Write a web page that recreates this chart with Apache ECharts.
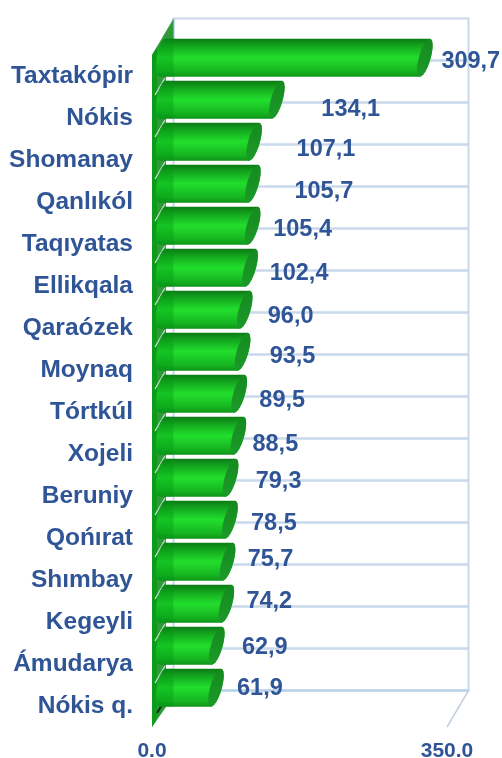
<!DOCTYPE html>
<html>
<head>
<meta charset="utf-8">
<style>html,body{margin:0;padding:0;background:#fff}#chart{width:502px;height:758px}</style>
<script src="https://cdn.jsdelivr.net/npm/echarts@6/dist/echarts.min.js"></script>
</head>
<body>
<div id="chart"></div>
<script>
var categories = ['Taxtakópir','Nókis','Shomanay','Qanlıkól','Taqıyatas','Ellikqala','Qaraózek','Moynaq','Tórtkúl','Xojeli','Beruniy','Qońırat','Shımbay','Kegeyli','Ámudarya','Nókis q.'];
var values = [309.7,134.1,107.1,105.7,105.4,102.4,96.0,93.5,89.5,88.5,79.3,78.5,75.7,74.2,62.9,61.9];
var xTicks = [0,350];
// the value labels were placed by hand in the original, [dx, dy] from the bar end
var labelNudge = [[46,4],[74,10],[72,8],[71,8],[50,4],[49,6],[46,7],[50,5],[43,7],[37,9],[48,4],[44,4],[43,-2],[43,-2],[48,2],[44,1]];

var blue = '#2f5597';
var depthX = 21.5, depthY = 36.5;

var chart = echarts.init(document.getElementById('chart'));

function ringPoints(cx, cy, ry, rx, shear, from, to) {
  var pts = [];
  for (var i = 0; i <= 24; i++) {
    var t = from + (to - from) * i / 24;
    pts.push([cx + rx * Math.cos(t) - shear * Math.sin(t), cy + ry * Math.sin(t)]);
  }
  return pts;
}

function renderWall(params, api) {
  var p0 = api.coord([0, categories[0]]);
  var p1 = api.coord([350, categories[0]]);
  var band = api.size([0, 1])[1];
  var top = p0[1] - band / 2, rows = categories.length;
  var bottom = top + band * rows;
  var x0 = p0[0], x1 = p1[0];
  var kids = [];
  var line = '#c9d8ea';
  // back wall
  kids.push({type:'rect', shape:{x:x0+depthX, y:top-depthY, width:x1-x0, height:bottom-top}, style:{fill:'#fff', stroke:line, lineWidth:2}});
  for (var i = 1; i < rows; i++) {
    var y = top + band * i - depthY;
    kids.push({type:'line', shape:{x1:x0+depthX, y1:y, x2:x1+depthX, y2:y}, style:{stroke:line, lineWidth:2.5}});
  }
  // floor edge
  kids.push({type:'line', shape:{x1:x1, y1:bottom, x2:x1+depthX, y2:bottom-depthY}, style:{stroke:'#c3d0df', lineWidth:1.5}});
  kids.push({type:'line', shape:{x1:x0+depthX, y1:bottom-depthY, x2:x1+depthX, y2:bottom-depthY}, style:{stroke:'#b9d3ea', lineWidth:2.5}});
  kids.push({type:'line', shape:{x1:x0+depthX, y1:top-depthY, x2:x0+depthX, y2:top}, style:{stroke:'#b9cfe6', lineWidth:2}});
  // left wall, mostly hidden behind the bars
  kids.push({type:'polygon', shape:{points:[[x0,top],[x0+depthX,top-depthY],[x0+depthX,top-12],[x0+14,top-12],[x0+14,bottom-20],[x0,bottom]]},
    style:{fill:'#2f9a38'}});
  kids.push({type:'polygon', shape:{points:[[x0,top],[x0+5,top-8],[x0+5,bottom-8],[x0,bottom]]}, style:{fill:'#0e9a1b'}});
  for (var j = 1; j < rows; j++) {
    var yy = top + band * j;
    kids.push({type:'line', shape:{x1:x0+3, y1:yy-2, x2:x0+13, y2:yy-19}, style:{stroke:'#c4dcc8', lineWidth:1.3}});
  }
  kids.push({type:'line', shape:{x1:x0+5, y1:bottom-14, x2:x0+10, y2:bottom-22}, style:{stroke:'#0a2a10', lineWidth:2}});
  return {type:'group', children:kids};
}

function renderBar(params, api) {
  var idx = api.value(0);
  var val = api.value(1);
  var base = api.coord([0, categories[idx]]);
  var end = api.coord([val, categories[idx]]);
  var cy = base[1] - depthY / 2;
  var ry = 19, rx = 6, shear = 5;
  var xa = base[0] + depthX / 2;
  var xb = end[0] + depthX / 2 + 1;
  var startArc = ringPoints(xa, cy, ry, rx, 3, Math.PI / 2, Math.PI * 1.5);
  var pts = ringPoints(xb, cy, ry, rx, shear, -Math.PI / 2, Math.PI / 2).concat(startArc);
  var kids = [];
  kids.push({type:'polygon', shape:{points:pts}, style:{
    fill:new echarts.graphic.LinearGradient(0,0,0,1,[
      {offset:0,color:'#0c7a15'},{offset:0.2,color:'#14a81f'},{offset:0.5,color:'#22de2c'},
      {offset:0.85,color:'#15b520'},{offset:1,color:'#10941a'}])}});
  // darker stretch in front of the back wall
  var seam = base[0] + depthX;
  kids.push({type:'polygon', shape:{points:startArc.concat([[seam, cy - ry],[seam, cy + ry]])}, style:{
    fill:'rgba(0,150,20,0.35)'}});
  // end cap
  kids.push({type:'polygon', shape:{points:ringPoints(xb, cy, ry, rx, shear, 0, Math.PI * 2)}, style:{
    fill:new echarts.graphic.LinearGradient(0,0,0,1,[
      {offset:0,color:'#158a20'},{offset:1,color:'#1c9a28'}])}});
  var nudge = labelNudge[idx];
  kids.push({type:'text', z2:10, style:{
    x:xb + nudge[0], y:cy + nudge[1],
    text:val.toFixed(1).replace('.', ','),
    fill:blue, font:'bold 23.5px "Liberation Sans"', align:'center', verticalAlign:'middle'}});
  return {type:'group', children:kids};
}

var option = {
  animation: false,
  grid: {left:152, right:55, top:55, bottom:31, outerBoundsMode:'none'},
  xAxis: {
    type:'value', min:xTicks[0], max:xTicks[1], interval:xTicks[1],
    axisLine:{show:false}, axisTick:{show:false}, splitLine:{show:false},
    axisLabel:{margin:14, color:blue, fontFamily:'Liberation Sans', fontWeight:'bold', fontSize:21, hideOverlap:false,
      formatter:function (v) { return v.toFixed(1); }}
  },
  yAxis: {
    type:'category', inverse:true, data:categories,
    axisLine:{show:false}, axisTick:{show:false}, splitLine:{show:false},
    axisLabel:{margin:19, color:blue, fontFamily:'Liberation Sans', fontWeight:'bold', fontSize:24.5, interval:0, padding:[4,0,0,0]}
  },
  series: [
    {type:'custom', z:1, renderItem:renderWall, data:[[0]], silent:true, encode:{x:0}},
    {type:'custom', z:2, renderItem:renderBar, silent:true, clip:false,
      data:values.map(function (v, i) { return [i, v]; }), encode:{x:1, y:0}}
  ]
};
chart.setOption(option);
</script>
</body>
</html>
